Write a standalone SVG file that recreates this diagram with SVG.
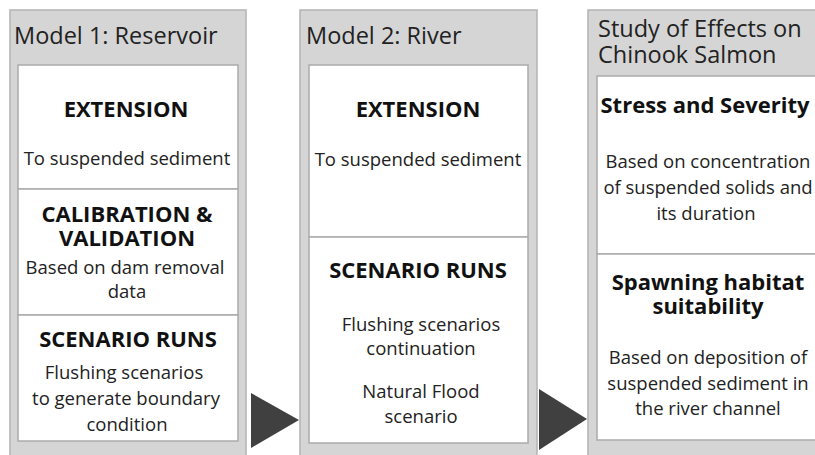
<svg xmlns="http://www.w3.org/2000/svg" width="815" height="455" viewBox="0 0 815 455">
<style>
.panel{fill:#d5d5d5;stroke:#b3b3b3;stroke-width:1.5}
.box{fill:#ffffff;stroke:#ababab;stroke-width:1.5}
.hdr{font-family:"Open Sans","DejaVu Sans",sans-serif;font-size:23.5px;fill:#222}
.ttl{font-family:"Open Sans","DejaVu Sans",sans-serif;font-size:22px;font-weight:bold;fill:#111;text-anchor:middle}
.txt{font-family:"Open Sans","DejaVu Sans",sans-serif;font-size:18.5px;fill:#222;text-anchor:middle}
.arrow{fill:#404040}
</style>
<rect width="815" height="455" fill="#ffffff"/>
<g id="model1">
<rect class="panel" x="10" y="10" width="236" height="450"/>
<text class="hdr" x="14" y="44">Model 1: Reservoir</text>
<rect class="box" x="18" y="65" width="220" height="124"/>
<text class="ttl" x="126" y="117">EXTENSION</text>
<text class="txt" x="127" y="165">To suspended sediment</text>
<rect class="box" x="18" y="189" width="220" height="126"/>
<text class="ttl" x="127" y="222">CALIBRATION &amp;<tspan x="127" dy="24">VALIDATION</tspan></text>
<text class="txt" x="125" y="274">Based on dam removal<tspan x="127" dy="24">data</tspan></text>
<rect class="box" x="18" y="315" width="220" height="126"/>
<text class="ttl" x="128" y="347">SCENARIO RUNS</text>
<text class="txt" x="124" y="379">Flushing scenarios<tspan x="126" dy="26">to generate boundary</tspan><tspan x="127" dy="26">condition</tspan></text>
</g>
<g id="model2">
<rect class="panel" x="300" y="10" width="237" height="450"/>
<text class="hdr" x="306" y="44">Model 2: River</text>
<rect class="box" x="309" y="65" width="219" height="172"/>
<text class="ttl" x="418" y="117">EXTENSION</text>
<text class="txt" x="418" y="166">To suspended sediment</text>
<rect class="box" x="309" y="237" width="219" height="206"/>
<text class="ttl" x="418" y="278">SCENARIO RUNS</text>
<text class="txt" x="421" y="331">Flushing scenarios<tspan x="421" dy="24">continuation</tspan></text>
<text class="txt" x="421" y="398">Natural Flood<tspan x="421" dy="25">scenario</tspan></text>
</g>
<g id="study">
<rect class="panel" x="588" y="10" width="240" height="450"/>
<text class="hdr" x="598" y="37">Study of Effects on<tspan x="598" dy="26">Chinook Salmon</tspan></text>
<rect class="box" x="597" y="76" width="230" height="178"/>
<text class="ttl" x="705" y="113">Stress and Severity</text>
<text class="txt" x="708" y="168">Based on concentration<tspan x="708" dy="26">of suspended solids and</tspan><tspan x="706" dy="26">its duration</tspan></text>
<rect class="box" x="597" y="254" width="230" height="186"/>
<text class="ttl" x="708" y="290">Spawning habitat<tspan x="708" dy="24">suitability</tspan></text>
<text class="txt" x="708" y="364">Based on deposition of<tspan x="708" dy="26">suspended sediment in</tspan><tspan x="708" dy="25">the river channel</tspan></text>
</g>
<g id="connectors">
<polygon class="arrow" points="251,393 299,420 251,448"/>
<polygon class="arrow" points="539,389 587,419 539,450"/>
</g>
</svg>
